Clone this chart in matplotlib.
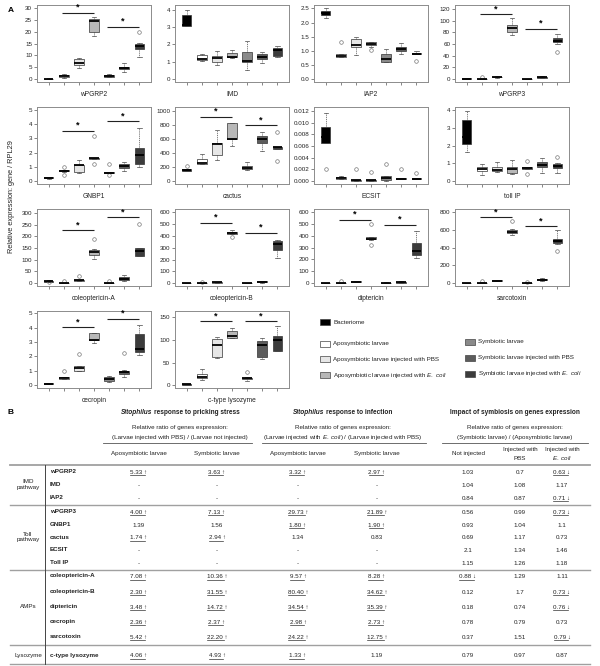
import matplotlib
matplotlib.use('Agg')
import matplotlib.pyplot as plt
from matplotlib.patches import Rectangle
from matplotlib.lines import Line2D

plt.rcParams['font.family'] = ['Liberation Sans', 'DejaVu Sans']
plt.rcParams['mathtext.fontset'] = 'custom'
plt.rcParams['mathtext.rm'] = 'Liberation Sans'
plt.rcParams['mathtext.it'] = 'Liberation Sans:italic'
plt.rcParams['mathtext.bf'] = 'Liberation Sans:bold'

# ---------------- Panel A data ----------------
# each gene: 7 groups of (low whisker, q1, median, q3, high whisker), outliers per group
groups = ['Bacteriome', 'Aposymbiotic larvae', 'Aposymbiotic larvae injected with PBS',
          'Aposymbiotic larvae injected with $\\it{E.\\ coli}$', 'Symbiotic larvae',
          'Symbiotic larvae injected with PBS', 'Symbiotic larvae injected with $\\it{E.\\ coli}$']
group_cols = ['#000000', '#ffffff', '#e6e6e6', '#b8b8b8', '#8a8a8a', '#5c5c5c', '#3c3c3c']

genes = ['wPGRP2', 'IMD', 'IAP2', 'wPGRP3', 'GNBP1', 'cactus', 'ECSIT', 'toll IP',
         'coleoptericin-A', 'coleoptericin-B', 'diptericin', 'sarcotoxin',
         'cecropin', 'c-type lysozyme']

wpgrp2 = [(0, 0, 0.1, 0.2, 0.5), (0.5, 0.8, 1.2, 1.8, 2.0), (4.5, 5.8, 7.0, 8.5, 9.0),
          (18, 20, 24.5, 25.5, 26), (0.7, 1.0, 1.3, 1.8, 2.2), (3.0, 4.2, 4.8, 5.3, 7.0),
          (9.5, 12.5, 13.8, 15, 15.2)]
wpgrp2_out = [[], [], [], [], [], [], [20]]

imd = [(3.05, 3.05, 3.1, 3.7, 4.0), (1.05, 1.1, 1.15, 1.4, 1.45), (0.8, 1.0, 1.2, 1.35, 1.6),
       (1.2, 1.25, 1.3, 1.5, 1.65), (0.55, 1.0, 1.05, 1.55, 2.2), (0.95, 1.15, 1.3, 1.45, 1.55),
       (1.3, 1.35, 1.65, 1.8, 1.9)]
imd_out = [[], [], [], [], [], [], []]

iap2 = [(2.15, 2.28, 2.35, 2.42, 2.5), (0.78, 0.78, 0.82, 0.88, 0.88), (0.85, 1.15, 1.2, 1.42, 1.5),
        (1.15, 1.2, 1.25, 1.3, 1.32), (0.6, 0.62, 0.7, 0.9, 1.07), (0.9, 1.0, 1.05, 1.12, 1.27),
        (0.9, 0.9, 0.9, 0.92, 0.98)]
iap2_out = [[], [1.3], [], [1.02], [], [], [0.65]]

wpgrp3 = [(0.5, 0.8, 1, 1.5, 2), (0, 0.2, 0.5, 1, 1), (2.5, 3, 3.5, 4.5, 5), (76, 80, 87, 92, 105),
          (0, 0.2, 0.5, 0.8, 1), (2, 2.8, 3.5, 4.5, 5), (60, 63, 66, 70, 77)]
wpgrp3_out = [[], [3], [], [], [], [], [46]]

gnbp1 = [(0.18, 0.2, 0.23, 0.28, 0.32), (0.65, 0.7, 0.72, 0.75, 0.75), (0.6, 0.65, 1.1, 1.15, 1.5),
         (1.55, 1.55, 1.6, 1.62, 1.62), (0.6, 0.6, 0.6, 0.62, 0.62), (0.7, 0.95, 1.05, 1.2, 1.35),
         (1.0, 1.2, 1.8, 2.35, 3.75)]
gnbp1_out = [[], [1.0, 0.45], [], [3.2, 1.2], [1.2, 0.45], [], []]

cactus = [(150, 150, 160, 170, 170), (240, 250, 255, 310, 390), (300, 370, 520, 540, 730),
          (500, 600, 600, 820, 830), (160, 170, 190, 210, 270), (430, 540, 590, 640, 690),
          (450, 450, 480, 490, 490)]
cactus_out = [[210], [], [], [], [], [], [700, 280]]

ecsit = [(0.0066, 0.0066, 0.0075, 0.0093, 0.0117), (0.0003, 0.0003, 0.0005, 0.0007, 0.0008),
         (0.0001, 0.0001, 0.0002, 0.0002, 0.0002), (0.0001, 0.0001, 0.0002, 0.0002, 0.0002),
         (0.0001, 0.0002, 0.0005, 0.0008, 0.0009), (0.0003, 0.0003, 0.0004, 0.0005, 0.0005),
         (0.0003, 0.0003, 0.0004, 0.0005, 0.0005)]
ecsit_out = [[0.0021], [], [0.002], [0.0015], [0.003], [0.002], [0.0014]]

tollip = [(1.65, 2.1, 2.5, 3.45, 3.95), (0.35, 0.55, 0.7, 0.8, 0.95), (0.5, 0.55, 0.65, 0.8, 1.1),
          (0.4, 0.45, 0.7, 0.8, 1.2), (0.7, 0.7, 0.75, 0.8, 0.8), (0.45, 0.8, 0.9, 1.05, 1.3),
          (0.45, 0.75, 0.85, 0.95, 1.0)]
tollip_out = [[], [], [], [], [1.15, 0.4], [], [1.35]]

cola = [(6, 7, 8, 9, 12), (0, 0, 1, 2, 2), (8, 10, 12, 14, 15), (105, 120, 135, 140, 145),
        (0, 0, 1, 2, 2), (8, 12, 17, 25, 35), (115, 118, 137, 150, 150)]
cola_out = [[4], [8], [30], [190], [8], [], [255]]

colb = [(0, 0, 1, 2, 3), (0, 0, 2, 3, 4), (3, 4, 6, 8, 10), (420, 420, 428, 438, 450),
        (0, 1, 2, 3, 4), (5, 8, 10, 14, 18), (215, 285, 330, 355, 365)]
colb_out = [[], [10], [], [395], [], [], []]

dipt = [(0, 0, 1, 2, 3), (0, 0, 2, 3, 5), (8, 10, 12, 14, 16), (365, 368, 375, 385, 390),
        (0, 0, 2, 4, 6), (3, 5, 8, 12, 18), (210, 240, 270, 340, 440)]
dipt_out = [[], [15], [], [495, 325], [], [], []]

sarco = [(0, 0, 2, 4, 5), (0, 0, 3, 5, 8), (20, 22, 28, 32, 35), (545, 560, 570, 600, 610),
         (0, 0, 3, 6, 10), (25, 30, 38, 50, 60), (440, 450, 470, 500, 595)]
sarco_out = [[], [20], [], [700], [15], [], [360]]

cecr = [(0.05, 0.07, 0.1, 0.12, 0.15), (0.4, 0.42, 0.5, 0.58, 0.6), (0.95, 1.0, 1.2, 1.3, 1.3),
        (2.9, 3.15, 3.15, 3.6, 3.6), (0.25, 0.3, 0.45, 0.6, 0.65), (0.55, 0.8, 0.9, 1.0, 1.05),
        (2.1, 2.3, 2.5, 3.55, 4.15)]
cecr_out = [[], [1.0], [2.15], [], [], [2.2], []]

lyso = [(1, 1, 2, 2.5, 3), (12, 15, 18, 25, 35), (60, 63, 88, 103, 107), (105, 105, 110, 120, 127),
        (10, 13, 15, 16, 17), (58, 62, 90, 97, 105), (75, 75, 100, 110, 132)]
lyso_out = [[], [], [], [], [29], [], []]

box_data = [wpgrp2, imd, iap2, wpgrp3, gnbp1, cactus, ecsit, tollip, cola, colb, dipt, sarco, cecr, lyso]
out_data = [wpgrp2_out, imd_out, iap2_out, wpgrp3_out, gnbp1_out, cactus_out, ecsit_out, tollip_out,
            cola_out, colb_out, dipt_out, sarco_out, cecr_out, lyso_out]

# significance bars (apo PBS vs E. coli, sym PBS vs E. coli)
sig_y = [(28, 22), None, None, (111, 86), (3.55, 4.2), (915, 790), None, None,
         (226, 281), (513, 427), (535, 492), (743, 641), (4.03, 4.6), (142, 142)]

y_top = [30, 4, 2.5, 120, 5, 1000, 0.012, 4, 300, 600, 600, 800, 5, 150]
y_step = [5, 1, 0.5, 20, 1, 200, 0.002, 1, 50, 100, 100, 200, 1, 50]
y_max = [30, 4.1, 2.52, 122, 5, 1010, 0.0122, 4, 305, 605, 600, 800, 4.95, 158]
y_fmt = ['%d', '%d', '%.1f', '%d', '%d', '%d', '%.3f', '%d', '%d', '%d', '%d', '%d', '%d', '%d']

# ---------------- Panel B data ----------------
tab_groups = ['IMD\npathway', 'Toll\npathway', 'AMPs', 'Lysozyme']
tab_genes = [['wPGRP2', 'IMD', 'IAP2'],
             ['wPGRP3', 'GNBP1', 'cactus', 'ECSIT', 'Toll IP'],
             ['coleoptericin-A', 'coleoptericin-B', 'diptericin', 'cecropin', 'sarcotoxin'],
             ['c-type lysozyme']]
tab_vals = {
    'wPGRP2': ['5.33 ↑', '3.63 ↑', '3.32 ↑', '2.97 ↑', '1.03', '0.7', '0.63 ↓'],
    'IMD': ['-', '-', '-', '-', '1.04', '1.08', '1.17'],
    'IAP2': ['-', '-', '-', '-', '0.84', '0.87', '0.71 ↓'],
    'wPGRP3': ['4.00 ↑', '7.13 ↑', '29.73 ↑', '21.89 ↑', '0.56', '0.99', '0.73 ↓'],
    'GNBP1': ['1.39', '1.56', '1.80 ↑', '1.90 ↑', '0.93', '1.04', '1.1'],
    'cactus': ['1.74 ↑', '2.94 ↑', '1.34', '0.83', '0.69', '1.17', '0.73'],
    'ECSIT': ['-', '-', '-', '-', '2.1', '1.34', '1.46'],
    'Toll IP': ['-', '-', '-', '-', '1.15', '1.26', '1.18'],
    'coleoptericin-A': ['7.08 ↑', '10.36 ↑', '9.57 ↑', '8.28 ↑', '0.88 ↓', '1.29', '1.11'],
    'coleoptericin-B': ['2.30 ↑', '31.55 ↑', '80.40 ↑', '34.62 ↑', '0.12', '1.7', '0.73 ↓'],
    'diptericin': ['3.48 ↑', '14.72 ↑', '34.54 ↑', '35.39 ↑', '0.18', '0.74', '0.76 ↓'],
    'cecropin': ['2.36 ↑', '2.37 ↑', '2.98 ↑', '2.73 ↑', '0.78', '0.79', '0.73'],
    'sarcotoxin': ['5.42 ↑', '22.20 ↑', '24.22 ↑', '12.75 ↑', '0.37', '1.51', '0.79 ↓'],
    'c-type lysozyme': ['4.06 ↑', '4.93 ↑', '1.33 ↑', '1.19', '0.79', '0.97', '0.87'],
}

W, H = 600, 666
fig = plt.figure(figsize=(W / 100, H / 100), dpi=100)


def fx(px):
    return px / W


def fy(py):
    return 1 - py / H


# ---------------- Panel A plotting ----------------
col_left = [37, 175, 314, 455]
row_top = [5, 107, 209, 311]
ax_w, ax_h = 114, 77
fs_tick = 4.5

for i, g in enumerate(genes):
    r, c = divmod(i, 4)
    ax = fig.add_axes([fx(col_left[c]), fy(row_top[r] + ax_h), ax_w / W, ax_h / H])
    stats = []
    for (lo, q1, med, q3, hi), fl in zip(box_data[i], out_data[i]):
        stats.append(dict(whislo=lo, q1=q1, med=med, q3=q3, whishi=hi, fliers=fl))
    bp = ax.bxp(stats, positions=range(1, 8), widths=0.62, capwidths=0.3, patch_artist=True,
                boxprops=dict(edgecolor='#333333', linewidth=0.5),
                whiskerprops=dict(color='#444444', linewidth=0.5, linestyle=(0, (1.5, 1.2))),
                capprops=dict(color='#444444', linewidth=0.5),
                medianprops=dict(color='black', linewidth=1.3),
                flierprops=dict(marker='o', markerfacecolor='none', markeredgecolor='#777777',
                                markersize=2.6, markeredgewidth=0.5))
    for b, col in zip(bp['boxes'], group_cols):
        b.set_facecolor(col)
    if sig_y[i] is not None:
        rng = y_max[i]
        for (x0, x1), yy in zip([(1.85, 4.0), (4.85, 7.0)], sig_y[i]):
            ax.plot([x0, x1], [yy, yy], color='#222222', lw=0.8, solid_capstyle='butt')
            ax.text((x0 + x1) / 2, yy + 0.012 * rng, '*', ha='center', va='bottom',
                    fontsize=6.5, fontweight='bold')
    ax.set_xlim(0.22, 7.78)
    ax.set_ylim(-0.04 * y_max[i], 1.04 * y_max[i])
    n = int(round(y_top[i] / y_step[i]))
    ticks = [k * y_step[i] for k in range(n + 1)]
    ax.set_yticks(ticks)
    ax.set_yticklabels([y_fmt[i] % t for t in ticks])
    ax.set_xticks(range(1, 8))
    ax.set_xticklabels([])
    ax.tick_params(length=2, width=0.5, color='#555555', labelsize=fs_tick, pad=1.5,
                   labelcolor='#222222')
    for s in ax.spines.values():
        s.set_color('#8c8c8c')
        s.set_linewidth(0.7)
    ax.set_xlabel(g, fontsize=4.8, labelpad=3, color='#222222')

fig.text(fx(8), fy(10), 'A', fontsize=6, fontweight='bold', va='center')
fig.text(fx(12), fy(197), 'Relative expression: gene / RPL29', fontsize=5.3, rotation=90,
         ha='center', va='center', color='#222222')

# legend
leg_pos = [(320, 322), (320, 344), (320, 359), (320, 375), (465, 342), (465, 358), (465, 374)]
for (lx, ly), lab, col in zip(leg_pos, groups, group_cols):
    fig.add_artist(Rectangle((fx(lx), fy(ly + 3)), 10 / W, 6 / H, facecolor=col,
                             edgecolor='#444444', linewidth=0.5, transform=fig.transFigure))
    fig.text(fx(lx + 13), fy(ly), lab, fontsize=4.5, va='center', color='#222222')

# ---------------- Panel B table ----------------
fs_t = 4.5
tcol = '#222222'
fig.text(fx(8), fy(412), 'B', fontsize=6, fontweight='bold', va='center')

renderer = fig.canvas.get_renderer()


def rich_centre(xc, yc, parts):
    txts = [fig.text(0, fy(yc), s, fontsize=fs_t + 0.2, fontweight='bold', fontstyle=st,
                     va='center', color=tcol) for s, st in parts]
    widths = [t.get_window_extent(renderer).width for t in txts]
    gap = 2.0
    x = xc - (sum(widths) + gap * (len(txts) - 1)) / 2
    for t, w in zip(txts, widths):
        t.set_x(fx(x))
        x += w + gap


head_x = [180, 343, 515]
rich_centre(head_x[0], 413, [('Sitophilus', 'italic'), ('response to pricking stress', 'normal')])
rich_centre(head_x[1], 413, [('Sitophilus', 'italic'), ('response to infection', 'normal')])
rich_centre(head_x[2], 413, [('Impact of symbiosis on genes expression', 'normal')])

sub2 = ['(Larvae injected with PBS) / (Larvae not injected)',
        '(Larvae injected with $\\it{E.\\ coli}$) / (Larvae injected with PBS)',
        '(Symbiotic larvae) / (Aposymbiotic larvae)']
for xc, s in zip(head_x, sub2):
    fig.text(fx(xc), fy(428), 'Relative ratio of genes expression:', fontsize=fs_t,
             ha='center', va='center', color=tcol)
    fig.text(fx(xc), fy(437), s, fontsize=fs_t, ha='center', va='center', color=tcol)

for x0, x1 in [(103, 252), (262, 426), (442, 588)]:
    fig.add_artist(Line2D([fx(x0), fx(x1)], [fy(443), fy(443)], color='#555555', lw=0.6))

val_x = [139, 217, 298, 377, 468, 520, 562]
col_heads = ['Aposymbiotic larvae', 'Symbiotic larvae', 'Aposymbiotic larvae', 'Symbiotic larvae',
             'Not injected']
for xc, s in zip(val_x, col_heads):
    fig.text(fx(xc), fy(454), s, fontsize=fs_t, ha='center', va='center', color=tcol)
fig.text(fx(val_x[5]), fy(450), 'Injected with', fontsize=fs_t, ha='center', va='center', color=tcol)
fig.text(fx(val_x[5]), fy(458), 'PBS', fontsize=fs_t, ha='center', va='center', color=tcol)
fig.text(fx(val_x[6]), fy(450), 'Injected with', fontsize=fs_t, ha='center', va='center', color=tcol)
fig.text(fx(val_x[6]), fy(458), '$\\it{E.\\ coli}$', fontsize=fs_t, ha='center', va='center',
         color=tcol)

# table rows (layout)
row_y = [[471.5, 484.5, 497.5],
         [511.5, 524.3, 537.1, 549.9, 562.7],
         [576, 591.2, 606.4, 621.6, 636.8],
         [655]]
sep_y = [465, 505, 569.5, 645, 664]

for k, yy in enumerate(sep_y):
    fig.add_artist(Line2D([fx(10), fx(590)], [fy(yy), fy(yy)], color='#a0a0a0',
                          lw=1.3 if k == 0 else 1.0))
fig.add_artist(Line2D([fx(45), fx(45)], [fy(465), fy(664)], color='#444444', lw=0.7))

arrow_w = fig.text(0, 0, ' ↑', fontsize=fs_t).get_window_extent(renderer).width
fig.texts[-1].remove()

for gi, (glab, gl) in enumerate(zip(tab_groups, tab_genes)):
    ys = row_y[gi]
    fig.text(fx(28), fy((ys[0] + ys[-1]) / 2), glab, fontsize=fs_t, ha='center', va='center',
             color=tcol, linespacing=1.2)
    for gene, yy in zip(gl, ys):
        fig.text(fx(50), fy(yy), gene, fontsize=fs_t, fontweight='bold', va='center', color=tcol)
        for xc, v in zip(val_x, tab_vals[gene]):
            t = fig.text(fx(xc), fy(yy + 2.3), v, fontsize=fs_t, ha='center', va='baseline',
                         color=tcol)
            if '↑' in v or '↓' in v:
                bb = t.get_window_extent(renderer)
                x0 = bb.x0
                x1 = bb.x1 - arrow_w + 2
                fig.add_artist(Line2D([x0 / W, x1 / W], [fy(yy + 3.6), fy(yy + 3.6)],
                                      color='#333333', lw=0.5))

fig.savefig('out.png', dpi=100)
